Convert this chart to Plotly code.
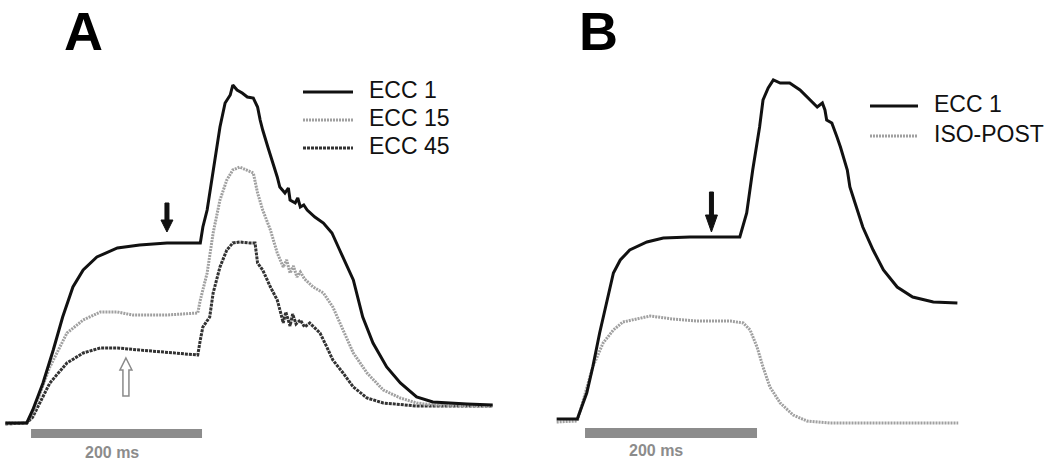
import plotly.graph_objects as go

# ---- data (time in ms from start of the 200 ms bar, force in arbitrary units) ----
# Panel A
a_ecc1_t = [-30, -5, 2, 14, 26, 37, 49, 61, 77, 101, 127, 159, 198, 201, 206, 213, 221, 227, 233, 236,
            241, 247, 253, 260, 265, 268, 271, 277, 282, 288, 291, 297, 301, 303, 309, 312, 315, 319,
            323, 332, 342, 352, 361, 370, 377, 388, 400, 416, 432, 451, 470, 510, 540]
a_ecc1_f = [1, 1, 14, 41, 74, 107, 137, 154, 167, 176, 179, 181, 181, 197, 214, 254, 297, 321, 329, 339,
            334, 331, 327, 326, 317, 304, 294, 277, 264, 247, 237, 231, 236, 224, 221, 226, 217, 219,
            214, 207, 201, 191, 174, 157, 144, 107, 81, 57, 41, 27, 22, 20, 19]

a_ecc15_t = [-30, -5, 2, 22, 42, 61, 81, 101, 119, 159, 195, 198, 206, 213, 221, 229, 236, 244, 260, 265,
             271, 280, 288, 295, 299, 303, 307, 311, 315, 320, 330, 342, 353, 365, 377, 393, 412, 432,
             451, 470, 540]
a_ecc15_f = [1, 1, 11, 57, 91, 104, 112, 112, 109, 109, 111, 124, 151, 191, 224, 244, 254, 257, 251, 231,
             214, 194, 171, 157, 164, 151, 158, 147, 152, 145, 137, 131, 117, 94, 71, 51, 34, 26,
             21, 19, 18]

a_ecc45_t = [-30, -5, 2, 22, 42, 61, 81, 101, 127, 159, 195, 198, 201, 209, 213, 221, 229, 236, 244, 256,
             262, 265, 271, 280, 288, 293, 295, 298, 303, 306, 310, 315, 320, 326, 338, 346, 353, 365,
             377, 393, 412, 451, 540]
a_ecc45_f = [0, 1, 7, 41, 61, 71, 76, 76, 74, 72, 69, 84, 97, 107, 131, 157, 174, 181, 182, 181,
             181, 161, 154, 137, 124, 108, 101, 112, 98, 110, 100, 104, 97, 101, 91, 77, 64, 51,
             37, 26, 21, 18, 18]

# Panel B
b_ecc1_t = [-33, -9, 2, 9, 17, 26, 33, 41, 52, 72, 91, 122, 180, 188, 195, 203, 207, 213, 219, 227,
            238, 250, 262, 270, 276, 279, 281, 287, 293, 297, 305, 308, 314, 323, 335, 347, 363, 381,
            405, 433]
b_ecc1_f = [3, 3, 29, 55, 89, 122, 149, 162, 172, 180, 184, 185, 185, 209, 252, 295, 322, 334, 342, 339,
            339, 332, 322, 315, 319, 312, 302, 299, 285, 275, 252, 235, 219, 195, 172, 152, 135, 125,
            120, 119]

b_iso_t = [-33, -9, -2, 9, 21, 33, 44, 64, 76, 102, 130, 169, 184, 192, 200, 207, 215, 227, 242, 258,
           285, 434]
b_iso_f = [0, 1, 22, 55, 79, 92, 100, 104, 106, 103, 101, 101, 99, 92, 75, 55, 35, 19, 7, 1,
           -1, -1]

# legend labels
legend_a = ["ECC 1", "ECC 15", "ECC 45"]
legend_b = ["ECC 1", "ISO-POST"]

FONT = "Liberation Sans, Arial, sans-serif"
BLACK = "#111111"
LIGHT = "#a0a0a0"
DARK = "#333333"
BAR = "#8c8c8c"

styles = {
    "ECC 1": dict(color=BLACK, width=3),
    "ECC 15": dict(color=LIGHT, width=3, dash="2px,1px"),
    "ECC 45": dict(color=DARK, width=3, dash="3px,1px"),
    "ISO-POST": dict(color=LIGHT, width=3, dash="2px,1px"),
}

fig = go.Figure()

# panel A traces
fig.add_trace(go.Scatter(x=a_ecc45_t, y=a_ecc45_f, mode="lines", line=styles["ECC 45"], name="ECC 45", xaxis="x", yaxis="y"))
fig.add_trace(go.Scatter(x=a_ecc15_t, y=a_ecc15_f, mode="lines", line=styles["ECC 15"], name="ECC 15", xaxis="x", yaxis="y"))
fig.add_trace(go.Scatter(x=a_ecc1_t, y=a_ecc1_f, mode="lines", line=styles["ECC 1"], name="ECC 1", xaxis="x", yaxis="y"))

# panel B traces
fig.add_trace(go.Scatter(x=b_iso_t, y=b_iso_f, mode="lines", line=styles["ISO-POST"], name="ISO-POST", xaxis="x2", yaxis="y2"))
fig.add_trace(go.Scatter(x=b_ecc1_t, y=b_ecc1_f, mode="lines", line=styles["ECC 1"], name="ECC 1", xaxis="x2", yaxis="y2"))

shapes = []
annos = []

# scale bars (200 ms)
for xr, yr, y0, y1, tx in [("x", "y", -5, -14, 95), ("x2", "y2", -6, -16, 83)]:
    shapes.append(dict(type="rect", xref=xr, yref=yr, x0=0, x1=200, y0=y0, y1=y1,
                       fillcolor=BAR, line=dict(width=0)))
    annos.append(dict(xref=xr, yref=yr, x=tx, y=-28, text="<b>200 ms</b>", showarrow=False,
                      font=dict(family=FONT, size=16, color=BAR)))

# black down arrows (pixel-sized, anchored at the tip)
for xr, yr, xa, ya, head, total in [("x", "y", 159, 192, 12, 29), ("x2", "y2", 147, 190, 17, 40)]:
    shapes.append(dict(type="path", xref=xr, yref=yr, xsizemode="pixel", ysizemode="pixel",
                       xanchor=xa, yanchor=ya,
                       path=f"M0,0 L-6,{head} L-2,{head} L-2,{total} L2,{total} L2,{head} L6,{head} Z",
                       fillcolor=BLACK, line=dict(color=BLACK, width=1)))

# hollow up arrow in panel A
shapes.append(dict(type="path", xref="x", yref="y", xsizemode="pixel", ysizemode="pixel",
                   xanchor=111, yanchor=66,
                   path="M0,0 L6,-12 L3,-12 L3,-38 L-3,-38 L-3,-12 L-6,-12 Z",
                   fillcolor="white", line=dict(color="#8a8a8a", width=1.5)))

# panel letters
for letter, xc in [("A", 83), ("B", 598)]:
    annos.append(dict(xref="paper", yref="paper", x=xc / 1050, y=1 - 31 / 464, text=f"<b>{letter}</b>",
                      showarrow=False, xanchor="center", yanchor="middle",
                      font=dict(family=FONT, size=54, color="black")))

# legends drawn by hand (sample line + label)
for labels, x0, x1, xt, rows in [(legend_a, 303, 353, 367, [92, 120, 148]),
                                 (legend_b, 870, 918, 932, [106, 136])]:
    for lab, yp in zip(labels, rows):
        st = styles[lab]
        shapes.append(dict(type="line", xref="paper", yref="paper",
                           x0=x0 / 1050, x1=x1 / 1050, y0=1 - yp / 464, y1=1 - yp / 464,
                           line=dict(color=st["color"], width=st["width"], dash=st.get("dash", "solid"))))
        annos.append(dict(xref="paper", yref="paper", x=xt / 1050, y=1 - (yp - 2) / 464, text=lab,
                          showarrow=False, xanchor="left", yanchor="middle",
                          font=dict(family=FONT, size=23, color=BLACK)))

ax_common = dict(visible=False, showgrid=False, zeroline=False, fixedrange=True)
fig.update_layout(
    width=1050, height=464,
    margin=dict(l=0, r=0, t=0, b=0),
    paper_bgcolor="white", plot_bgcolor="white",
    showlegend=False,
    xaxis=dict(domain=[0, 0.5], range=[-36.3, 577.8], **ax_common),
    yaxis=dict(range=[-40, 424], **ax_common),
    xaxis2=dict(domain=[0.5, 1], range=[-69.8, 540.7], anchor="y2", **ax_common),
    yaxis2=dict(range=[-42, 422], anchor="x2", **ax_common),
    shapes=shapes,
    annotations=annos,
)

# page body has a default 8px margin; drop it so the figure fills the window
fig.write_html("out.html", config={"displayModeBar": False},
               post_script="document.body.style.margin='0';")
